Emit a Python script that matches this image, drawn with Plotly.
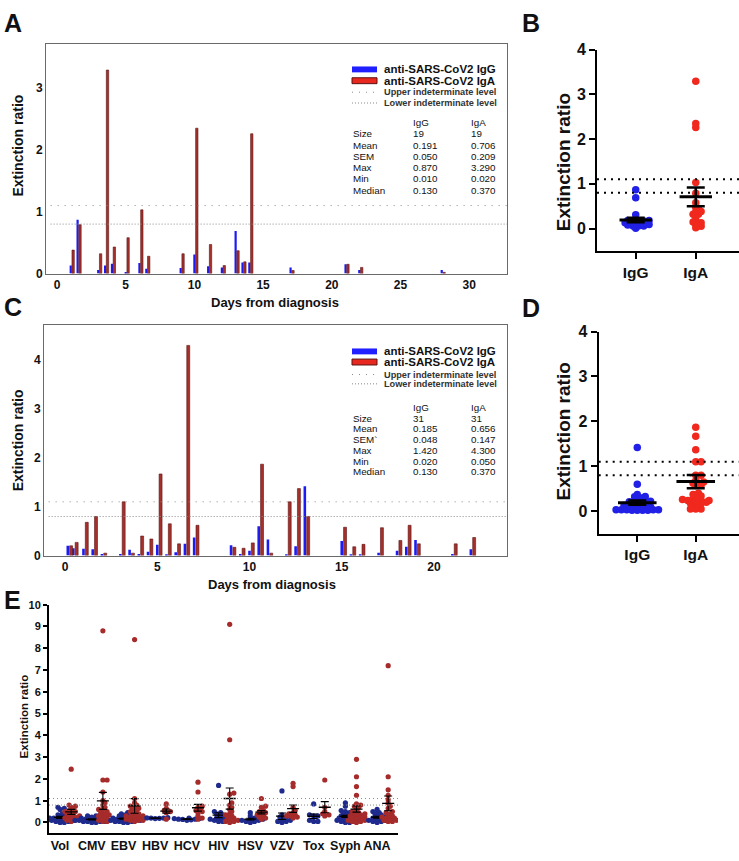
import plotly.graph_objects as go
import numpy as np

# ---------------- DATA ----------------
A_days = [1, 1.5, 3, 3.5, 4, 5, 6, 6.5, 9, 10, 11, 12, 13, 13.5, 14, 17, 21, 22, 28]
A_igg = [0.13, 0.87, 0.06, 0.13, 0.16, 0.01, 0.17, 0.08, 0.09, 0.31, 0.12, 0.10, 0.69, 0.18, 0.18, 0.10, 0.15, 0.06, 0.06]
A_iga = [0.38, 0.79, 0.32, 3.29, 0.43, 0.58, 1.03, 0.28, 0.32, 2.35, 0.47, 0.13, 0.37, 0.19, 2.26, 0.05, 0.15, 0.10, 0.02]

C_days = [0.15, 0.45, 1, 1.5, 2, 3, 3.5, 4, 4.5, 5, 5.5, 6, 6.5, 7, 9, 9.5, 10, 10.5, 11, 12, 12.5, 13,
          15, 15.5, 16, 17, 18, 18.5, 19, 21, 22]
C_igg = [0.20, 0.15, 0.14, 0.13, 0.03, 0.03, 0.12, 0.03, 0.08, 0.22, 0.02, 0.07, 0.24, 0.37, 0.21, 0.03, 0.10,
         0.60, 0.33, 0.02, 0.19, 1.42, 0.30, 0.02, 0.02, 0.06, 0.10, 0.18, 0.32, 0.03, 0.13]
C_iga = [0.20, 0.27, 0.68, 0.80, 0.05, 1.10, 0.05, 0.40, 0.34, 1.67, 0.65, 0.24, 4.30, 0.62, 0.17, 0.15, 0.26,
         1.87, 0.05, 1.10, 1.37, 0.80, 0.58, 0.18, 0.23, 0.57, 0.31, 0.62, 0.24, 0.24, 0.37]

UPPER = 1.1
LOWER = 0.8

LEG_LABELS = ["anti-SARS-CoV2 IgG", "anti-SARS-CoV2 IgA", "Upper indeterminate level", "Lower indeterminate level"]
STAT_HEAD = ["IgG", "IgA"]
STAT_ROWS_A = ["Size", "Mean", "SEM", "Max", "Min", "Median"]
STAT_IGG_A = ["19", "0.191", "0.050", "0.870", "0.010", "0.130"]
STAT_IGA_A = ["19", "0.706", "0.209", "3.290", "0.020", "0.370"]
STAT_ROWS_C = ["Size", "Mean", "SEM`", "Max", "Min", "Median"]
STAT_IGG_C = ["31", "0.185", "0.048", "1.420", "0.020", "0.130"]
STAT_IGA_C = ["31", "0.656", "0.147", "4.300", "0.050", "0.370"]

GROUPS = ["IgG", "IgA"]

E_cats = ["Vol", "CMV", "EBV", "HBV", "HCV", "HIV", "HSV", "VZV", "Tox", "Syph", "ANA"]
E_igg = [
    [0.70, 0.65, 0.60, 0.40, 0.35, 0.30, 0.25, 0.20, 0.20, 0.15, 0.15, 0.10, 0.10, 0.10, 0.05, 0.05, 0.00, 0.00, 0.10, 0.20],
    [0.35, 0.30, 0.30, 0.25, 0.20, 0.20, 0.15, 0.15, 0.10, 0.10, 0.10, 0.05, 0.05, 0.05, 0.00, 0.00, 0.15, 0.20, 0.10, 0.05],
    [0.45, 0.40, 0.35, 0.30, 0.25, 0.20, 0.20, 0.15, 0.15, 0.10, 0.10, 0.10, 0.05, 0.05, 0.00, 0.00, 0.20, 0.15, 0.30, 0.05, 0.10, 0.25],
    [0.22, 0.20, 0.20, 0.18, 0.19, 0.21],
    [0.20, 0.18, 0.15, 0.15, 0.12, 0.10, 0.18, 0.14],
    [1.70, 0.50, 0.45, 0.40, 0.35, 0.30, 0.20, 0.15, 0.10, 0.10, 0.05, 0.05, 0.15, 0.20],
    [0.45, 0.30, 0.20, 0.15, 0.10, 0.10, 0.05, 0.05, 0.15, 0.00],
    [1.45, 0.35, 0.25, 0.20, 0.10, 0.05, 0.05, 0.00, 0.15],
    [0.85, 0.35, 0.30, 0.30, 0.10, 0.05, 0.05],
    [0.90, 0.75, 0.55, 0.50, 0.45, 0.40, 0.35, 0.30, 0.30, 0.25, 0.20, 0.20, 0.15, 0.10, 0.10, 0.05, 0.05, 0.00, 0.00, 0.15, 0.10, 0.25],
    [0.60, 0.50, 0.45, 0.40, 0.35, 0.30, 0.25, 0.20, 0.20, 0.15, 0.10, 0.10, 0.05, 0.05, 0.00, 0.15],
]
E_iga = [
    [2.45, 0.80, 0.75, 0.70, 0.60, 0.55, 0.50, 0.45, 0.40, 0.35, 0.30, 0.30, 0.25, 0.20, 0.20, 0.15, 0.10, 0.10, 0.05, 0.50],
    [8.80, 1.95, 1.95, 1.40, 1.00, 0.90, 0.80, 0.70, 0.60, 0.50, 0.45, 0.40, 0.35, 0.30, 0.25, 0.20, 0.15, 0.10, 0.05, 0.05, 0.30, 0.60],
    [8.40, 1.10, 0.90, 0.80, 0.75, 0.70, 0.65, 0.60, 0.55, 0.50, 0.45, 0.40, 0.35, 0.30, 0.30, 0.25, 0.20, 0.15, 0.10, 0.10, 0.05, 0.20, 0.10, 0.30],
    [0.85, 0.65, 0.55, 0.50, 0.45, 0.15],
    [1.85, 1.40, 0.75, 0.70, 0.60, 0.55, 0.50, 0.45, 0.30, 0.15, 0.20],
    [9.10, 3.80, 1.35, 1.30, 0.90, 0.80, 0.70, 0.60, 0.50, 0.40, 0.35, 0.30, 0.25, 0.20, 0.15, 0.10, 0.05, 0.05, 0.00],
    [1.10, 0.75, 0.70, 0.55, 0.50, 0.45, 0.40, 0.35, 0.30, 0.25, 0.20, 0.15],
    [1.80, 1.65, 0.70, 0.55, 0.45, 0.40, 0.35, 0.30, 0.25, 0.20, 0.30],
    [1.95, 0.70, 0.50, 0.40, 0.35, 0.30],
    [2.90, 2.10, 1.65, 1.25, 0.85, 0.80, 0.75, 0.70, 0.60, 0.50, 0.45, 0.40, 0.35, 0.30, 0.25, 0.20, 0.15, 0.10, 0.05, 0.05, 0.00, 0.30, 0.20, 0.10, 0.40],
    [7.20, 2.10, 1.50, 1.25, 1.05, 0.90, 0.75, 0.65, 0.50, 0.45, 0.40, 0.30, 0.25, 0.20, 0.15, 0.10, 0.05, 0.05, 0.10, 0.20, 0.30],
]

# ---------------- HELPERS ----------------
W, H = 739, 861
FONT = "Arial, 'Liberation Sans', Helvetica, sans-serif"


def px(x):
    return x / W


def py(y):
    return 1 - y / H


annotations = []
shapes = []


def ann(x, y, text, size, bold=True, xanchor="left", yanchor="middle", angle=0, color="#111111"):
    annotations.append(dict(
        x=px(x), y=py(y), xref="paper", yref="paper", text=text, showarrow=False,
        xanchor=xanchor, yanchor=yanchor, textangle=angle, borderpad=0,
        font=dict(family=FONT, size=size, color=color, weight="bold" if bold else "normal")))


def swarm(vals, xscale, yscale, diam, mind=0.5, step=0.35):
    placed = []
    out = [0.0] * len(vals)
    order = sorted(range(len(vals)), key=lambda i: vals[i])
    for i in order:
        ypix = vals[i] * yscale
        k = 0
        while True:
            m = ((k + 1) // 2) * (1 if k % 2 == 1 else -1)
            xpix = m * diam * step
            if all((xpix - a) ** 2 + (ypix - b) ** 2 >= (mind * diam) ** 2 for a, b in placed):
                break
            k += 1
        placed.append((xpix, ypix))
        out[i] = xpix / xscale
    return out


fig = go.Figure()

BLUE_BAR = "#1c1cf2"
RED_BAR = "#a5302b"
RED_EDGE = "#5a1414"

# ---------------- PANELS A & C (bars) ----------------
for xa, ya, days, igg, iga, bw in [("x", "y", A_days, A_igg, A_iga, (0.16, 0.17, 0.09)),
                                   ("x3", "y3", C_days, C_igg, C_iga, (0.14, 0.16, 0.10))]:
    fig.add_trace(go.Bar(x=days, y=igg, xaxis=xa, yaxis=ya, width=bw[0], offset=-bw[0] / 2,
                         marker=dict(color=BLUE_BAR, line=dict(width=0)), showlegend=False))
    fig.add_trace(go.Bar(x=days, y=iga, xaxis=xa, yaxis=ya, width=bw[1], offset=bw[2],
                         marker=dict(color=RED_BAR, line=dict(color=RED_EDGE, width=0.6)), showlegend=False))
    for lvl, dash in [(UPPER, "1px,6px"), (LOWER, "1px,2px")]:
        shapes.append(dict(type="line", xref=xa + " domain", yref=ya, x0=0.01, x1=1, y0=lvl, y1=lvl,
                           line=dict(color="#8a8a8a", width=1, dash=dash)))

# legends & stats
for (y_sw, x_txt, y_head, y_rows, rows, sg, sa) in [
    ([62.5, 74.0, 85.7, 96.7], 383, 117, [128, 139.5, 151, 162.5, 174, 185.5], STAT_ROWS_A, STAT_IGG_A, STAT_IGA_A),
    ([349.5, 360.3, 373, 382.5], 383, 406.5, [417.5, 428, 439, 450, 461.3, 472], STAT_ROWS_C, STAT_IGG_C, STAT_IGA_C),
]:
    shapes.append(dict(type="rect", xref="paper", yref="paper", x0=px(352), x1=px(377), y0=py(y_sw[0] + 3),
                       y1=py(y_sw[0] - 3), fillcolor="#1f1fff", line=dict(width=0)))
    shapes.append(dict(type="rect", xref="paper", yref="paper", x0=px(352), x1=px(377), y0=py(y_sw[1] + 3),
                       y1=py(y_sw[1] - 3), fillcolor="#e8281e", line=dict(color="#5a1010", width=1)))
    shapes.append(dict(type="line", xref="paper", yref="paper", x0=px(352), x1=px(377), y0=py(y_sw[2]),
                       y1=py(y_sw[2]), line=dict(color="#8a8a8a", width=1, dash="1px,6px")))
    shapes.append(dict(type="line", xref="paper", yref="paper", x0=px(352), x1=px(377), y0=py(y_sw[3]),
                       y1=py(y_sw[3]), line=dict(color="#8a8a8a", width=1, dash="1px,2px")))
    ann(x_txt, y_sw[0], LEG_LABELS[0], 11.5)
    ann(x_txt, y_sw[1], LEG_LABELS[1], 11.5)
    ann(x_txt, y_sw[2], LEG_LABELS[2], 9.2, color="#333333")
    ann(x_txt, y_sw[3], LEG_LABELS[3], 9.2, color="#333333")
    ann(411.5, y_head, STAT_HEAD[0], 9.8, bold=False)
    ann(470, y_head, STAT_HEAD[1], 9.8, bold=False)
    for r, yy in enumerate(y_rows):
        ann(352, yy, rows[r], 9.8, bold=False)
        ann(411.5, yy, sg[r], 9.8, bold=False)
        ann(470, yy, sa[r], 9.8, bold=False)

# ---------------- PANELS B & D (dot plots) ----------------
DOT_BLUE = "#2020e6"
DOT_RED = "#f0281e"
for xa, ya, igg, iga, xs, ys, mhalf in [("x2", "y2", A_igg, A_iga, 60.0, 45.5, 0.27),
                                          ("x4", "y4", C_igg, C_iga, 58.7, 45.4, 0.33)]:
    for gi, (vals, col) in enumerate([(igg, DOT_BLUE), (iga, DOT_RED)]):
        off = swarm(vals, xs, ys, 7.0, mind=0.45, step=0.38)
        fig.add_trace(go.Scatter(x=[gi + o for o in off], y=vals, xaxis=xa, yaxis=ya, mode="markers",
                                 marker=dict(size=7.5, color=col, line=dict(width=0)), showlegend=False))
    for gi, vals in enumerate([igg, iga]):
        m = float(np.mean(vals))
        s = float(np.std(vals, ddof=1) / np.sqrt(len(vals)))
        fig.add_trace(go.Scatter(x=[gi - mhalf, gi + mhalf], y=[m, m], xaxis=xa, yaxis=ya, mode="lines",
                                 line=dict(color="black", width=3), showlegend=False))
        fig.add_trace(go.Scatter(x=[gi], y=[m], xaxis=xa, yaxis=ya, mode="markers",
                                 marker=dict(size=1, color="black"),
                                 error_y=dict(type="data", array=[s], width=9, thickness=2.5, color="black"),
                                 showlegend=False))
    for lvl in (UPPER, LOWER):
        shapes.append(dict(type="line", xref=xa + " domain", yref=ya, x0=0, x1=1, y0=lvl, y1=lvl,
                           line=dict(color="black", width=2, dash="2px,5px")))

# ---------------- PANEL E ----------------
E_BLUE = "#1e2a8c"
E_RED = "#a62b2b"
E_OFF = 0.35
for i in range(len(E_cats)):
    for vals, col, base in [(E_igg[i], E_BLUE, i), (E_iga[i], E_RED, i + E_OFF)]:
        off = swarm(vals, 31.7, 22.2, 5.0, mind=0.55, step=0.42)
        fig.add_trace(go.Scatter(x=[base + o for o in off], y=vals, xaxis="x5", yaxis="y5", mode="markers",
                                 marker=dict(size=5.2, color=col, line=dict(width=0)), showlegend=False))
        m = float(np.mean(vals))
        s = float(np.std(vals, ddof=1) / np.sqrt(len(vals)))
        fig.add_trace(go.Scatter(x=[base - 0.19, base + 0.19], y=[m, m], xaxis="x5", yaxis="y5", mode="lines",
                                 line=dict(color="black", width=1.3), showlegend=False))
        fig.add_trace(go.Scatter(x=[base], y=[m], xaxis="x5", yaxis="y5", mode="markers",
                                 marker=dict(size=1, color="black"),
                                 error_y=dict(type="data", array=[s], width=4, thickness=1.1, color="black"),
                                 showlegend=False))
for lvl, dash in [(UPPER, "1px,3px"), (LOWER, "1px,2px")]:
    shapes.append(dict(type="line", xref="x5 domain", yref="y5", x0=0, x1=1, y0=lvl, y1=lvl,
                       line=dict(color="#8a8a8a", width=1, dash=dash)))

# ---------------- TEXT ----------------
ann(3, 15, "A", 25, xanchor="left")
ann(521, 15, "B", 25, xanchor="left")
ann(3, 304, "C", 25, xanchor="left")
ann(521, 305, "D", 25, xanchor="left")
ann(3, 603, "E", 25, xanchor="left")

ann(18, 140, "Extinction ratio", 14, xanchor="center", angle=-90)
ann(18, 440, "Extinction ratio", 14, xanchor="center", angle=-90)
ann(275, 300, "Days from diagnosis", 13, xanchor="center")
ann(272, 587, "Days from diagnosis", 13, xanchor="center")
ann(563, 157, "Extinction ratio", 19, xanchor="center", angle=-90)
ann(563, 431, "Extinction ratio", 19, xanchor="center", angle=-90)
ann(24, 721, "Extinction ratio", 11.5, xanchor="center", angle=-90)


def tf(size):
    return dict(family=FONT, size=size, color="#111111", weight="bold")


bar_x = dict(showgrid=False, zeroline=False, showline=True, mirror=True, linecolor="#6a6a6a", linewidth=1,
             ticks="", tickfont=tf(12), tickvals=[0, 5, 10, 15, 20, 25, 30])
bar_y = dict(showgrid=False, zeroline=False, showline=True, mirror=True, linecolor="#6a6a6a", linewidth=1,
             ticks="", tickfont=tf(12), dtick=1, tick0=0)
dot_x = dict(showgrid=False, zeroline=False, showline=True, linecolor="black", linewidth=2, ticks="outside",
             ticklen=6, tickwidth=2, tickcolor="black", tickfont=tf(15.5), tickvals=[0, 1], ticktext=GROUPS)
dot_y = dict(showgrid=False, zeroline=False, showline=True, linecolor="black", linewidth=2, ticks="outside",
             ticklen=6, tickwidth=2, tickcolor="black", tickfont=tf(16), tickvals=[0, 1, 2, 3, 4],
             range=[-0.5, 4])

fig.update_layout(
    width=W, height=H, margin=dict(l=0, r=0, t=0, b=0),
    paper_bgcolor="white", plot_bgcolor="white", barmode="overlay", showlegend=False,
    font=dict(family=FONT),
    xaxis=dict(bar_x, domain=[px(46), px(507)], range=[-0.8, 32.75], anchor="y"),
    yaxis=dict(bar_y, domain=[py(270.3), py(36.7)], range=[0, 3.71], anchor="x"),
    xaxis3=dict(bar_x, domain=[px(44), px(507)], range=[-1.14, 23.96], anchor="y3",
                tickvals=[0, 5, 10, 15, 20]),
    yaxis3=dict(bar_y, domain=[py(557.3), py(323)], range=[0, 4.71], anchor="x3"),
    xaxis2=dict(dot_x, domain=[px(597), 1], range=[-0.645, 1.72], anchor="y2"),
    yaxis2=dict(dot_y, domain=[py(247.3), py(42.3)], anchor="x2"),
    xaxis4=dict(dot_x, domain=[px(598.7), 1], range=[-0.66, 1.74], anchor="y4"),
    yaxis4=dict(dot_y, domain=[py(535), py(329.3)], anchor="x4"),
    xaxis5=dict(showgrid=False, zeroline=False, showline=True, linecolor="black", linewidth=2, ticks="",
                tickfont=tf(12.5), tickvals=list(range(len(E_cats))), ticktext=E_cats,
                domain=[px(49), px(398)], range=[-0.35, 10.66], anchor="y5"),
    yaxis5=dict(showgrid=False, zeroline=False, showline=True, linecolor="black", linewidth=2, ticks="outside",
                ticklen=4, tickwidth=1.5, tickcolor="black", tickfont=tf(11), tickvals=list(range(11)),
                domain=[py(840), py(607.3)], range=[-0.5, 10], anchor="x5"),
    annotations=annotations, shapes=shapes,
)

fig.write_html("out.html", config={"displayModeBar": False},
               post_script="document.body.style.margin='0';document.body.style.overflow='hidden';")
